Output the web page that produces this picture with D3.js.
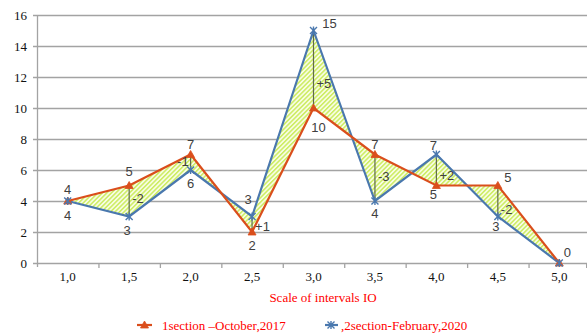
<!DOCTYPE html>
<html><head><meta charset="utf-8">
<script src="https://cdn.jsdelivr.net/npm/d3@7/dist/d3.min.js"></script>
<style>body{margin:0;background:#fff}svg{display:block}</style>
</head><body>
<svg id="c" width="587" height="336"></svg>
<script>
// ---- data ----
const categories = ["1,0","1,5","2,0","2,5","3,0","3,5","4,0","4,5","5,0"];
const oct2017 = [4,5,7,2,10,7,5,5,0];
const feb2020 = [4,3,6,3,15,4,7,3,0];
const diffLabels = ["", "-2", "-1", "+1", "+5", "-3", "+2", "-2", ""];
const yTicks = [0,2,4,6,8,10,12,14,16];
const seriesNames = ["1section \u2013October,2017", ",2section-February,2020"];
const axisTitle = "Scale of intervals IO";

// ---- label placement (style) ----
const redOff = [[0,-12],[0,-14],[0,-10],[0,13],[5,19],[0,-10],[-3,9],[10,-8],[8,-11]];
const blueOff = [[0,14],[-2,14],[0,13],[-4,-17],[16,-7],[0,12],[-3,-9],[-2,10],null];
const diffOff = [null,[3,-3],[-2,-1],[3,2],[3,14],[3,-1],[3,5],[3,8],null];

const RED = "#DA4E1C", BLUE = "#4A78AE", GRID = "#a3a3a3", TXT = "#404040";
const svg = d3.select("#c");
const x = d3.scaleBand().domain(categories).range([37, 590]).paddingInner(0).paddingOuter(0);
const cx = c => x(c) + x.bandwidth()/2;
const y = d3.scaleLinear().domain([0,16]).range([263,15]);

// pattern
const defs = svg.append("defs");
const pat = defs.append("pattern").attr("id","hatch").attr("patternUnits","userSpaceOnUse")
  .attr("width",3.2).attr("height",3.2).attr("patternTransform","rotate(45)");
pat.append("rect").attr("width",3.2).attr("height",3.2).attr("fill","#f8fde4");
pat.append("rect").attr("width",1.5).attr("height",3.2).attr("fill","#cdec62");

// gridlines
svg.append("g").selectAll("line").data(yTicks).join("line")
  .attr("x1",33).attr("x2",587).attr("y1",d=>y(d)+0.5).attr("y2",d=>y(d)+0.5)
  .attr("stroke",GRID).attr("stroke-width",1.3);
// y axis line
svg.append("line").attr("x1",37.5).attr("x2",37.5).attr("y1",y(16)).attr("y2",y(0)+4)
  .attr("stroke",GRID).attr("stroke-width",1.3);
// x ticks at band boundaries
svg.append("g").selectAll("line").data(categories.slice(1)).join("line")
  .attr("x1",d=>x(d)+0.5).attr("x2",d=>x(d)+0.5).attr("y1",y(0)).attr("y2",y(0)+5)
  .attr("stroke",GRID).attr("stroke-width",1.3);
svg.append("line").attr("x1",586.5).attr("x2",586.5).attr("y1",y(0)).attr("y2",y(0)+5).attr("stroke",GRID);

// y tick labels
svg.append("g").selectAll("text").data(yTicks).join("text")
  .attr("x",27).attr("y",d=>y(d)+4.5).attr("text-anchor","end")
  .attr("font-family","Liberation Serif").attr("font-size",13).attr("fill","#111")
  .text(d=>d);
// x tick labels
svg.append("g").selectAll("text").data(categories).join("text")
  .attr("x",d=>cx(d)).attr("y",281).attr("text-anchor","middle")
  .attr("font-family","Liberation Serif").attr("font-size",13).attr("fill","#111")
  .text(d=>d);

// fill between lines
const redPts = categories.map((c,i)=>[cx(c), y(oct2017[i])]);
const bluePts = categories.map((c,i)=>[cx(c), y(feb2020[i])]);
const poly = redPts.concat(bluePts.slice().reverse());
svg.append("path").attr("d","M"+poly.map(p=>p.join(",")).join("L")+"Z")
  .attr("fill","url(#hatch)").attr("stroke","none");

// difference lines
svg.append("g").selectAll("line").data(categories.filter((c,i)=>diffLabels[i]!=="")).join("line")
  .attr("x1",d=>cx(d)).attr("x2",d=>cx(d))
  .attr("y1",d=>y(oct2017[categories.indexOf(d)]))
  .attr("y2",d=>y(feb2020[categories.indexOf(d)]))
  .attr("stroke","#5f6a4a").attr("stroke-width",1.2);

const line = d3.line();
svg.append("path").attr("d",line(bluePts)).attr("fill","none").attr("stroke",BLUE).attr("stroke-width",2.2);
svg.append("path").attr("d",line(redPts)).attr("fill","none").attr("stroke",RED).attr("stroke-width",2.2);

// markers
function tri(g,px,py){ g.append("path").attr("d",`M${px},${py-4}L${px+4},${py+3}L${px-4},${py+3}Z`).attr("fill",RED).attr("stroke",RED).attr("stroke-width",0.8); }
function star(g,px,py){ g.append("path").attr("d",`M${px-3.5},${py-3.5}L${px+3.5},${py+3.5}M${px-3.5},${py+3.5}L${px+3.5},${py-3.5}M${px},${py-4}L${px},${py+4}`).attr("stroke",BLUE).attr("stroke-width",1.4).attr("fill","none"); }
const gm = svg.append("g");
redPts.forEach(p=>tri(gm,p[0],p[1]));
bluePts.forEach(p=>star(gm,p[0],p[1]));

// value labels
const gl = svg.append("g").attr("font-family","Liberation Sans").attr("font-size",13).attr("fill",TXT).attr("text-anchor","middle");
categories.forEach((c,i)=>{
  if(redOff[i]) gl.append("text").attr("x",cx(c)+redOff[i][0]).attr("y",y(oct2017[i])+redOff[i][1]+4.5).text(oct2017[i]);
  if(blueOff[i]) gl.append("text").attr("x",cx(c)+blueOff[i][0]).attr("y",y(feb2020[i])+blueOff[i][1]+4.5).text(feb2020[i]);
  if(diffOff[i]){
    const mid=(y(oct2017[i])+y(feb2020[i]))/2;
    gl.append("text").attr("x",cx(c)+diffOff[i][0]).attr("y",mid+diffOff[i][1]+4.5)
      .attr("text-anchor",diffOff[i][0]<0?"end":"start").text(diffLabels[i]);
  }
});

// axis title
svg.append("text").attr("x",323).attr("y",302).attr("text-anchor","middle")
  .attr("font-family","Liberation Serif").attr("font-size",13).attr("fill","#ff0000").text(axisTitle);

// legend
const lg = svg.append("g");
lg.append("line").attr("x1",137).attr("x2",152).attr("y1",325).attr("y2",325).attr("stroke",RED).attr("stroke-width",2.2);
tri(lg,144.5,325);
lg.append("text").attr("x",162).attr("y",329.5).attr("font-family","Liberation Serif").attr("font-size",13).attr("fill","#ff0000").text(seriesNames[0]);
lg.append("line").attr("x1",325).attr("x2",338).attr("y1",325).attr("y2",325).attr("stroke",BLUE).attr("stroke-width",2.2);
star(lg,331,325);
lg.append("text").attr("x",341).attr("y",329.5).attr("font-family","Liberation Serif").attr("font-size",13).attr("fill","#ff0000").text(seriesNames[1]);
</script>
</body></html>
